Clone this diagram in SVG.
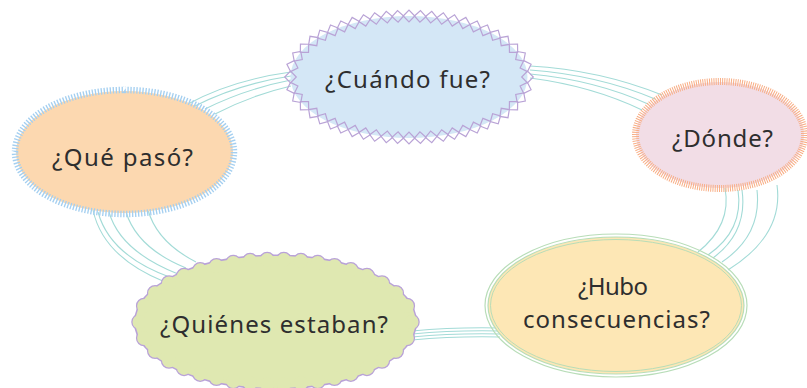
<svg xmlns="http://www.w3.org/2000/svg" width="807" height="388" viewBox="0 0 807 388">
<style>
.lbl{font-family:"Noto Sans","DejaVu Sans",sans-serif;font-size:24px;fill:#2e2e2e;text-anchor:middle}
.con path{fill:none;stroke:#a3dbd7;stroke-width:1.1}
</style>
<defs>
<marker id="dia" markerUnits="userSpaceOnUse" markerWidth="14" markerHeight="14" refX="7" refY="7" orient="auto" overflow="visible">
<path d="M1.2 7 L7 1.2 L12.8 7 L7 12.8 Z" fill="none" stroke="#b9a3d6" stroke-width="1.2"/>
</marker>
</defs>
<rect width="807" height="388" fill="#ffffff"/>
<g id="connectors" class="con">
<path d="M188 104 Q232 80 291 72"/>
<path d="M195 106 Q238 84 291 76"/>
<path d="M205 109 Q245 89 291 80"/>
<path d="M215 114 Q252 95 291 86"/>
<path d="M530 66 Q600 70 662 95"/>
<path d="M530 70 Q598 75 655 99"/>
<path d="M530 74 Q595 80 648 104"/>
<path d="M530 78 Q592 86 642 110"/>
<path d="M725 188 Q732 225 698 252"/>
<path d="M738 190 Q744 230 708 255"/>
<path d="M742 190 Q748 232 713 258"/>
<path d="M757 190 Q762 235 722 262"/>
<path d="M777 185 Q784 235 728 270"/>
<path d="M412 331 Q455 327 500 328"/>
<path d="M412 334 Q455 330 500 331"/>
<path d="M412 337 Q455 333 500 334"/>
<path d="M412 340 Q455 336 500 337"/>
<path d="M93 210 Q103 257 165 282"/>
<path d="M98 212 Q110 256 172 278"/>
<path d="M109 212 Q120 251 178 274"/>
<path d="M126 212 Q137 248 186 268"/>
<path d="M148 210 Q157 242 196 262"/>
</g>
<g id="node-cuando">
<ellipse cx="409" cy="77" rx="118.5" ry="61" fill="#d4e7f6"/>
<path d="M527.5 77 L525.6 87.9 L520.5 97.7 L513.5 105.7 L504.6 113 L495.4 118.8 L485.2 123.7 L475.3 127.6 L464.3 131 L453.4 133.6 L442.5 135.5 L431.2 136.9 L420.2 137.7 L409 138 L397.8 137.7 L386.8 136.9 L375.5 135.5 L364.6 133.6 L353.7 131 L342.7 127.6 L332.8 123.7 L322.6 118.8 L313.4 113 L304.5 105.7 L297.5 97.7 L292.4 87.9 L290.5 77 L292.4 66.1 L297.5 56.3 L304.5 48.3 L313.4 41 L322.6 35.2 L332.8 30.3 L342.7 26.4 L353.7 23 L364.6 20.4 L375.5 18.5 L386.8 17.1 L397.8 16.3 L409 16 L420.2 16.3 L431.2 17.1 L442.5 18.5 L453.4 20.4 L464.3 23 L475.3 26.4 L485.2 30.3 L495.4 35.2 L504.6 41 L513.5 48.3 L520.5 56.3 L525.6 66.1 Z" fill="none" stroke="none" marker-start="url(#dia)" marker-mid="url(#dia)"/>
<text class="lbl" x="407.5" y="88" textLength="165" lengthAdjust="spacing">¿Cuándo fue?</text>
</g>
<g id="node-que">
<ellipse cx="124.5" cy="152" rx="108.5" ry="61" fill="#fcd8b0"/>
<ellipse cx="124.5" cy="152" rx="109.5" ry="62" fill="none" stroke="#a4cff0" stroke-width="6.5" pathLength="184" stroke-dasharray="0.45 0.55"/>
<text class="lbl" x="122.5" y="166" textLength="141" lengthAdjust="spacing">¿Qué pasó?</text>
</g>
<g id="node-donde">
<ellipse cx="720" cy="135" rx="84" ry="53" fill="#f2dde6"/>
<ellipse cx="720" cy="135" rx="84.5" ry="53.5" fill="none" stroke="#f8ad84" stroke-width="7" pathLength="200" stroke-dasharray="0.45 0.55"/>
<text class="lbl" x="722.5" y="147" textLength="101" lengthAdjust="spacing">¿Dónde?</text>
</g>
<g id="node-hubo">
<ellipse cx="616" cy="305.5" rx="131" ry="71.5" fill="none" stroke="#b8ddb8" stroke-width="1.2"/>
<ellipse cx="616" cy="305.5" rx="128" ry="68.5" fill="#fde7b5" stroke="#b8ddb8" stroke-width="1.2"/>
<ellipse cx="616" cy="305.5" rx="125.5" ry="66" fill="none" stroke="#b8ddb8" stroke-width="1"/>
<text class="lbl" x="613" y="295" textLength="70" lengthAdjust="spacing">¿Hubo</text>
<text class="lbl" x="616.5" y="328" textLength="187" lengthAdjust="spacing">consecuencias?</text>
</g>
<g id="node-quienes">
<ellipse cx="275.5" cy="322" rx="140" ry="66" fill="none" stroke="#b9a2d8" stroke-width="3"/>
<ellipse cx="275.5" cy="322" rx="136" ry="62" fill="none" stroke="#b9a2d8" stroke-width="16.5" stroke-linecap="round" pathLength="38" stroke-dasharray="0 1"/>
<ellipse cx="275.5" cy="322" rx="140" ry="66" fill="#dfe8b1"/>
<ellipse cx="275.5" cy="322" rx="136" ry="62" fill="none" stroke="#dfe8b1" stroke-width="14" stroke-linecap="round" pathLength="38" stroke-dasharray="0 1"/>
<text class="lbl" x="274" y="333" textLength="228" lengthAdjust="spacing">¿Quiénes estaban?</text>
</g>
</svg>
